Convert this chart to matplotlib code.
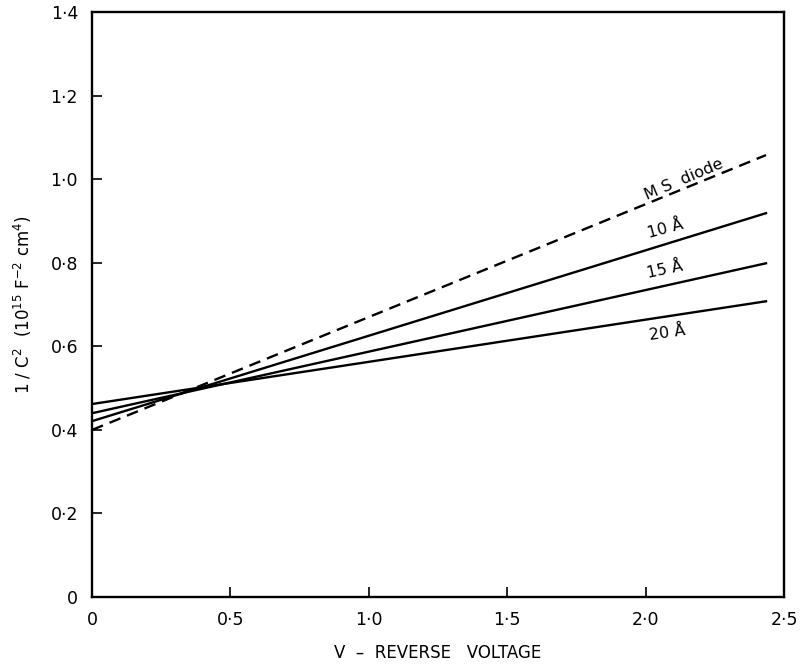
import matplotlib.pyplot as plt

# voltage end points of each straight line (V)
v_start = 0.0
v_end = 2.435

# 1/C^2 values at the two ends (10^15 F^-2 cm^4)
ms_diode = [0.400, 1.058]
oxide_10 = [0.421, 0.919]
oxide_15 = [0.440, 0.799]
oxide_20 = [0.462, 0.708]

x_ticks = [0, 0.5, 1.0, 1.5, 2.0, 2.5]
x_labels = ["0", "0·5", "1·0", "1·5", "2·0", "2·5"]
y_ticks = [0, 0.2, 0.4, 0.6, 0.8, 1.0, 1.2, 1.4]
y_labels = ["0", "0·2", "0·4", "0·6", "0·8", "1·0", "1·2", "1·4"]

plt.rcParams["font.family"] = "DejaVu Sans"

fig = plt.figure(figsize=(8, 6.66), dpi=100)
ax = fig.add_axes([0.115, 0.1036, 0.865, 0.878])

xs = [v_start, v_end]
ax.plot(xs, ms_diode, color="black", lw=1.7, dashes=(5, 3))
ax.plot(xs, oxide_10, color="black", lw=1.7)
ax.plot(xs, oxide_15, color="black", lw=1.7)
ax.plot(xs, oxide_20, color="black", lw=1.7)

ax.text(2.14, 1.0, "M S  diode", rotation=23, ha="center", va="center",
        fontsize=11.5)
ax.text(2.07, 0.881, "10 Å", rotation=15, ha="center", va="center",
        fontsize=11.5)
ax.text(2.07, 0.783, "15 Å", rotation=12, ha="center", va="center",
        fontsize=11.5)
ax.text(2.08, 0.632, "20 Å", rotation=8, ha="center", va="center",
        fontsize=11.5)

ax.set_xlim(0, 2.5)
ax.set_ylim(0, 1.4)
ax.set_xticks(x_ticks)
ax.set_xticklabels(x_labels)
ax.set_yticks(y_ticks)
ax.set_yticklabels(y_labels)
ax.tick_params(direction="in", length=7, width=1.2, labelsize=12.5, pad=10,
               top=False, right=False)

for side in ax.spines.values():
    side.set_linewidth(1.7)

ax.set_xlabel("V  –  REVERSE   VOLTAGE", fontsize=12, labelpad=11)
ax.set_ylabel("1 / C$^2$  (10$^{15}$ F$^{-2}$ cm$^4$)", fontsize=12, labelpad=12)

fig.savefig("out.png", dpi=100)
